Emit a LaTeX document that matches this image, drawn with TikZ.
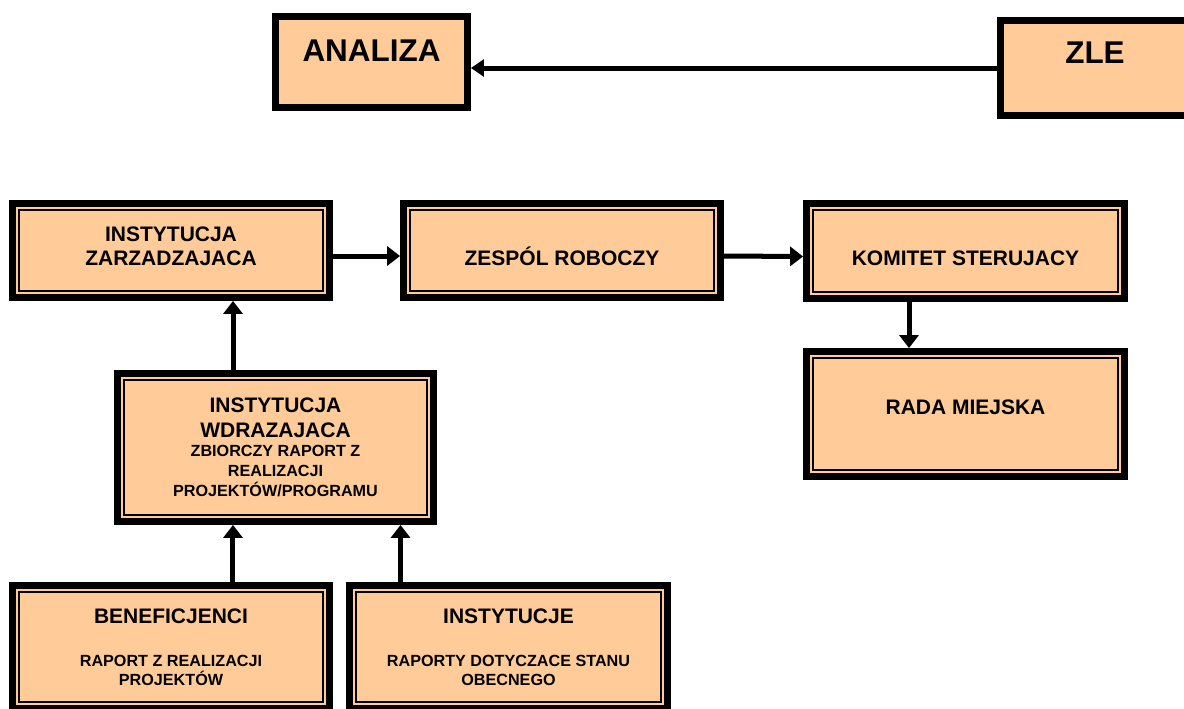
\documentclass[tikz,border=0pt]{standalone}
\usepackage{fontspec}
\setmainfont{Liberation Sans}
\usetikzlibrary{arrows.meta}
\definecolor{peach}{RGB}{255,204,153}
\newcommand{\smalltxt}{\fontsize{9.2}{11}\selectfont}

\begin{document}
\begin{tikzpicture}[x=0.02cm, y=-0.02cm,
        box/.style={draw, fill=peach, line width=3.9pt, align=center, inner sep=0pt,
            font=\fontsize{11.95}{14.2}\selectfont\bfseries},
        dbox/.style={box, path picture={\draw[line width=1.3pt]
            ([shift={(3.7pt,3.7pt)}]path picture bounding box.south west) rectangle
            ([shift={(-3.7pt,-3.7pt)}]path picture bounding box.north east);}},
        big/.style={font=\fontsize{17.9}{20}\selectfont\bfseries},
        arr/.style={line width=2.85pt, -{Triangle[length=7.4pt,width=10.8pt]}}]
            \useasboundingbox (0, 0) rectangle (1184, 708);
            \node[box, big, minimum width=3.84cm, minimum height=1.82cm, text height=13pt, text depth=13.6pt] (analiza) at (371.5, 62) {ANALIZA};
            \node[box, big, minimum width=3.78cm, minimum height=1.9cm, text height=13pt, text depth=18.6pt] (zle) at (1095, 68) {ZLE};
            \node[dbox, minimum width=6.34cm, minimum height=1.88cm, text depth=5.2pt] (zarz) at (171, 250.5) {INSTYTUCJA\\[-0.6pt]ZARZADZAJACA};
            \node[dbox, minimum width=6.34cm, minimum height=1.88cm, text height=16.6pt, text depth=0pt] (zespol) at (562, 250.5) {ZESPÓL ROBOCZY};
            \node[dbox, minimum width=6.36cm, minimum height=1.9cm, text height=16.6pt, text depth=0pt] (komitet) at (965.5, 251) {KOMITET STERUJACY};
            \node[dbox, minimum width=6.36cm, minimum height=2.5cm, text height=8.6pt, text depth=8pt] (rada) at (965.5, 414) {RADA MIEJSKA};
            \node[dbox, minimum width=6.32cm, minimum height=2.96cm] (wdraz) at (275.5, 447.5) {INSTYTUCJA\\WDRAZAJACA\\[-3.2pt]{\smalltxt ZBIORCZY RAPORT Z}\\[-2.9pt]{\smalltxt REALIZACJI}\\[-2.9pt]{\smalltxt PROJEKTÓW/PROGRAMU}};
            \node[dbox, minimum width=6.34cm, minimum height=2.46cm] (benef) at (171, 647) {BENEFICJENCI\\[10.4pt]{\smalltxt RAPORT Z REALIZACJI}\\[-3.7pt]{\smalltxt PROJEKTÓW}};
            \node[dbox, minimum width=6.36cm, minimum height=2.46cm] (inst) at (508.5, 647) {INSTYTUCJE\\[10.4pt]{\smalltxt RAPORTY DOTYCZACE STANU}\\[-3.7pt]{\smalltxt OBECNEGO}};
            \draw[arr, -{Triangle[length=7.4pt,width=9.5pt]}] (zle) -- (zle -| analiza.east);
            \draw[arr] ([yshift=-0.11cm]zarz.east) -- ([yshift=-0.11cm]zespol.west);
            \draw[arr] ([yshift=-0.11cm]zespol.east) -- ([yshift=-0.11cm]komitet.west);
            \draw[arr] ([xshift=-1.13cm]komitet.south) -- ([xshift=-1.13cm]rada.north);
            \draw[arr] ([xshift=-0.85cm]wdraz.north) -- ([xshift=-0.85cm]wdraz.north |- zarz.south);
            \draw[arr] ([xshift=1.24cm]benef.north) -- ([xshift=1.24cm]benef.north |- wdraz.south);
            \draw[arr] ([xshift=-2.16cm]inst.north) -- ([xshift=-2.16cm]inst.north |- wdraz.south);
        \end{tikzpicture}
\end{document}
